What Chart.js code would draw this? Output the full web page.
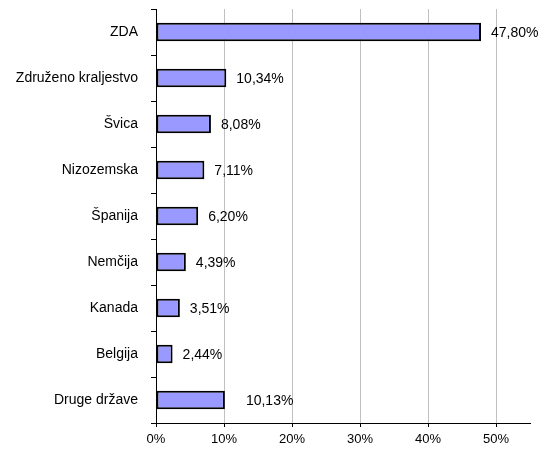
<!DOCTYPE html>
<html>
<head>
<meta charset="utf-8">
<script src="https://cdn.jsdelivr.net/npm/chart.js@4"></script>
<style>
html,body{margin:0;padding:0;background:#fff;}
#wrap{width:542px;height:452px;position:relative;}
</style>
</head>
<body>
<div id="wrap"><canvas id="c" width="542" height="452"></canvas></div>
<script>
const categories = ["ZDA","Združeno kraljestvo","Švica","Nizozemska","Španija","Nemčija","Kanada","Belgija","Druge države"];
const shares = [47.80, 10.34, 8.08, 7.11, 6.20, 4.39, 3.51, 2.44, 10.13];
const valueLabels = ["47,80%","10,34%","8,08%","7,11%","6,20%","4,39%","3,51%","2,44%","10,13%"];
const xTicks = [0, 10, 20, 30, 40, 50];
const xTickLabels = ["0%","10%","20%","30%","40%","50%"];

const FONT = "'Liberation Sans', Arial, sans-serif";

const valueLabelPlugin = {
  id: 'valueLabels',
  afterDatasetsDraw(chart) {
    const ctx = chart.ctx;
    const meta = chart.getDatasetMeta(0);
    ctx.save();
    ctx.font = "14px " + FONT;
    ctx.fillStyle = "#000";
    ctx.textBaseline = "middle";
    ctx.textAlign = "left";
    meta.data.forEach((bar, i) => {
      const extra = (i === meta.data.length - 1) ? 11 : 0;
      ctx.fillText(valueLabels[i], bar.x + 10 + extra, bar.y + 1);
    });
    ctx.restore();
  }
};

new Chart(document.getElementById('c'), {
  type: 'bar',
  data: {
    labels: categories,
    datasets: [{
      data: shares,
      backgroundColor: '#9999FF',
      borderColor: '#000000',
      borderWidth: 2,
      borderSkipped: false,
      categoryPercentage: 1.0,
      barPercentage: 0.4
    }]
  },
  options: {
    indexAxis: 'y',
    responsive: false,
    animation: false,
    devicePixelRatio: 1,
    layout: { padding: { top: 9, right: 12, left: 0, bottom: 0 } },
    plugins: { legend: { display: false }, tooltip: { enabled: false } },
    scales: {
      x: {
        type: 'linear',
        min: 0,
        max: 55,
        afterBuildTicks: (s) => { s.ticks = xTicks.map(v => ({ value: v })); },
        afterFit: (s) => { s.height = 29; s.paddingLeft = 0; s.paddingRight = 0; },
        ticks: {
          font: { family: FONT, size: 13 },
          color: '#000',
          padding: 5,
          maxRotation: 0,
          callback: (v) => xTickLabels[xTicks.indexOf(v)]
        },
        grid: {
          color: (c) => c.tick && c.tick.value === 0 ? 'rgba(0,0,0,0)' : '#c0c0c0',
          lineWidth: 1,
          tickColor: '#000',
          tickLength: 4,
          drawTicks: true
        },
        border: { color: '#000', width: 1 }
      },
      y: {
        afterFit: (s) => { s.width = 156; s.paddingTop = 0; s.paddingBottom = 0; },
        ticks: {
          font: { family: FONT, size: 14 },
          color: '#000',
          padding: 13
        },
        grid: {
          drawOnChartArea: false,
          tickColor: '#000',
          tickLength: 5,
          offset: true
        },
        border: { color: '#000', width: 1 }
      }
    }
  },
  plugins: [valueLabelPlugin]
});
</script>
</body>
</html>
